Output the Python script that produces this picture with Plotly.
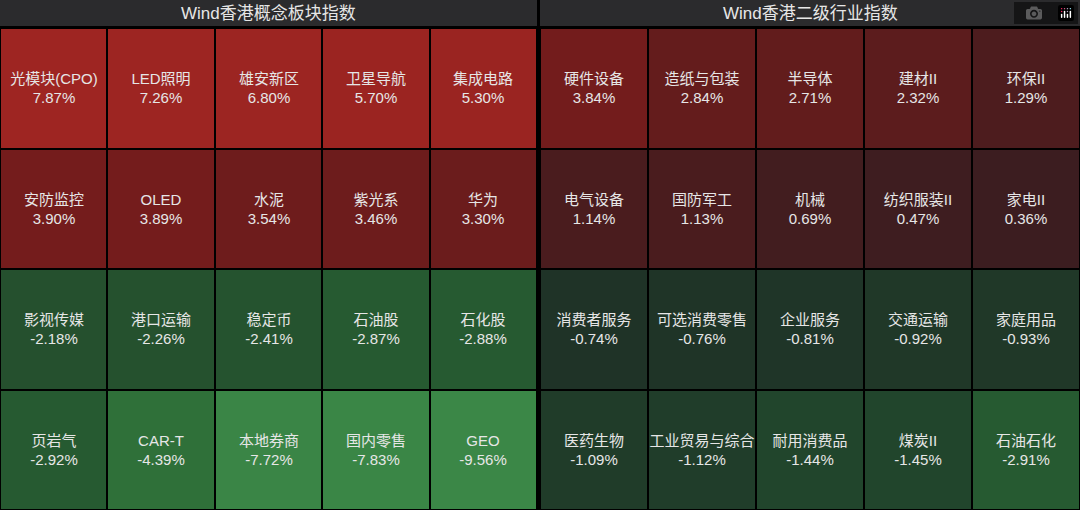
import plotly.graph_objects as go

# left panel: Wind香港概念板块指数
left_names = [
    ["光模块(CPO)", "LED照明", "雄安新区", "卫星导航", "集成电路"],
    ["安防监控", "OLED", "水泥", "紫光系", "华为"],
    ["影视传媒", "港口运输", "稳定币", "石油股", "石化股"],
    ["页岩气", "CAR-T", "本地券商", "国内零售", "GEO"],
]
left_values = [
    [7.87, 7.26, 6.80, 5.70, 5.30],
    [3.90, 3.89, 3.54, 3.46, 3.30],
    [-2.18, -2.26, -2.41, -2.87, -2.88],
    [-2.92, -4.39, -7.72, -7.83, -9.56],
]
# right panel: Wind香港二级行业指数
right_names = [
    ["硬件设备", "造纸与包装", "半导体", "建材II", "环保II"],
    ["电气设备", "国防军工", "机械", "纺织服装II", "家电II"],
    ["消费者服务", "可选消费零售", "企业服务", "交通运输", "家庭用品"],
    ["医药生物", "工业贸易与综合", "耐用消费品", "煤炭II", "石油石化"],
]
right_values = [
    [3.84, 2.84, 2.71, 2.32, 1.29],
    [1.14, 1.13, 0.69, 0.47, 0.36],
    [-0.74, -0.76, -0.81, -0.92, -0.93],
    [-1.09, -1.12, -1.44, -1.45, -2.91],
]
titles = ["Wind香港概念板块指数", "Wind香港二级行业指数"]

scale = [
    [0.0, "#3b8747"], [0.225, "#2f7039"], [0.319, "#265a31"], [0.3625, "#25502e"],
    [0.409, "#21452c"], [0.454, "#1f3327"], [0.5, "#2d2024"], [0.5225, "#3c1d20"],
    [0.581, "#4d1c1e"], [0.675, "#631c1c"], [0.744, "#741c1c"], [0.8125, "#9a2421"],
    [1.0, "#9e2522"],
]
FONT = "Liberation Sans, Noto Sans CJK SC"

fig = go.Figure()
for i, (names, vals) in enumerate([(left_names, left_values), (right_names, right_values)]):
    text = [[f"{n}<br>{v:.2f}%" for n, v in zip(rn, rv)] for rn, rv in zip(names, vals)]
    fig.add_trace(go.Heatmap(
        z=vals, text=text, texttemplate="%{text}",
        textfont=dict(color="#e6e6e6", size=15, family=FONT),
        colorscale=scale, zmin=-8, zmax=8, showscale=False,
        xgap=2, ygap=2, hoverinfo="text",
        xaxis="x" if i == 0 else "x2", yaxis="y",
    ))

top = 1 - 28 / 510
ax = dict(visible=False, fixedrange=True)
fig.update_layout(
    width=1080, height=510, margin=dict(l=0, r=0, t=0, b=0),
    paper_bgcolor="#000000", plot_bgcolor="#000000",
    font=dict(family=FONT),
    xaxis=dict(domain=[0, 537 / 1080], range=[-0.5, 4.5], **ax),
    xaxis2=dict(domain=[540 / 1080, 1], range=[-0.5, 4.5], **ax),
    yaxis=dict(domain=[0, top], range=[3.5, -0.5], **ax),
)
for x0, x1, t in [(0, 537 / 1080, titles[0]), (540 / 1080, 1, titles[1])]:
    fig.add_shape(type="rect", xref="paper", yref="paper", x0=x0, x1=x1,
                  y0=top + 2 / 510, y1=1, fillcolor="#2b2b2d", line_width=0, layer="below")
    fig.add_annotation(xref="paper", yref="paper", x=(x0 + x1) / 2, y=(top + 1) / 2 + 1 / 510,
                       xanchor="center", yanchor="middle",
                       text=t, showarrow=False, font=dict(color="#e6e6e6", size=17, family=FONT))

fig.write_html("out.html", post_script="document.body.style.margin='0';")
